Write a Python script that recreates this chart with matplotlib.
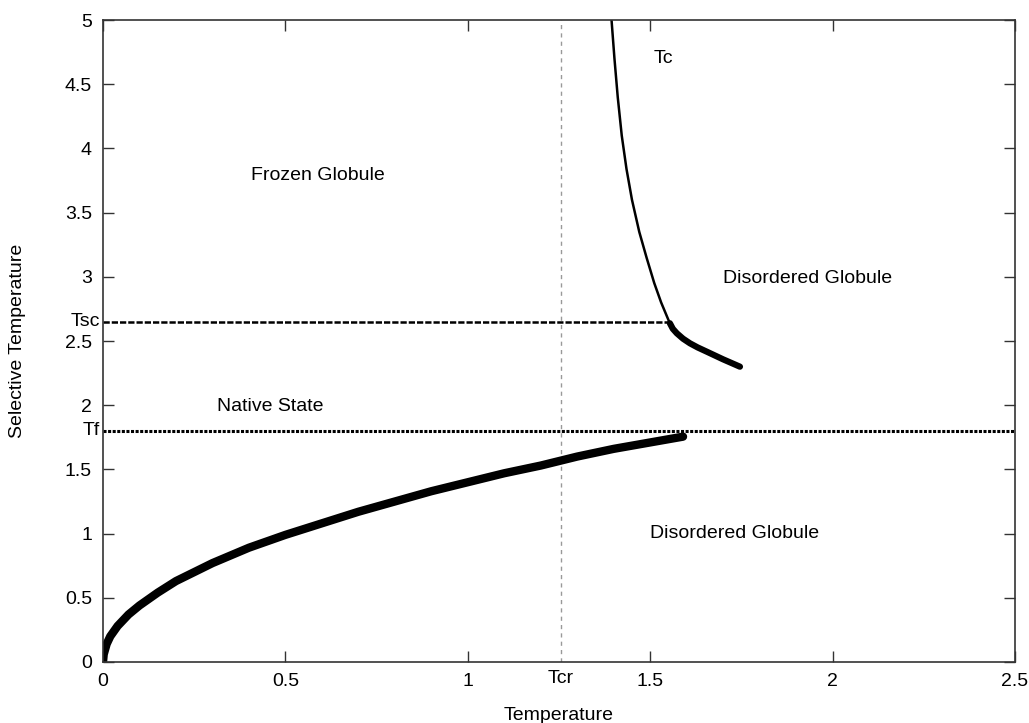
import matplotlib
matplotlib.use("Agg")
from matplotlib import pyplot as plt

plt.rcParams['font.family'] = ['Liberation Sans', 'DejaVu Sans']

# critical temperatures
T_sc = 2.65
T_f = 1.8
T_cr = 1.255

# Tc line (upper branch, thin)
tc_x = [1.394, 1.402, 1.411, 1.422, 1.435, 1.450, 1.470, 1.490, 1.511, 1.530, 1.552, 1.556]
tc_y = [5.0, 4.70, 4.40, 4.10, 3.84, 3.60, 3.35, 3.15, 2.952, 2.80, 2.650, 2.625]

# Tc continuation below Tsc (thick)
tc2_x = [1.554, 1.562, 1.573, 1.590, 1.609, 1.630, 1.655, 1.700, 1.746]
tc2_y = [2.638, 2.595, 2.560, 2.518, 2.482, 2.450, 2.417, 2.357, 2.300]

# lower boundary native state / disordered globule
low_x = [0.0, 0.002, 0.01, 0.02, 0.04, 0.07, 0.1, 0.15, 0.2, 0.3, 0.4, 0.5,
         0.6, 0.7, 0.8, 0.9, 1.0, 1.1, 1.2, 1.3, 1.4, 1.5, 1.59]
low_y = [0.0, 0.06, 0.14, 0.20, 0.28, 0.37, 0.44, 0.54, 0.63, 0.77, 0.89, 0.99,
         1.08, 1.17, 1.25, 1.33, 1.40, 1.47, 1.53, 1.60, 1.66, 1.71, 1.755]

xticks = [0, 0.5, 1, 1.5, 2, 2.5]
xticklabels = ["0", "0.5", "1", "1.5", "2", "2.5"]
yticks = [0, 0.5, 1, 1.5, 2, 2.5, 3, 3.5, 4, 4.5, 5]
yticklabels = ["0", "0.5", "1", "1.5", "2", "2.5", "3", "3.5", "4", "4.5", "5"]

fig = plt.figure(figsize=(10.29, 7.23), dpi=100)
ax = fig.add_axes((0.1001, 0.0844, 0.8863, 0.8879))

ax.set_xlim(0, 2.5)
ax.set_ylim(0, 5)

# reference lines
ax.axvline(T_cr, color='#999999', lw=1.0, ls=(0, (3, 3)))
ax.plot([0, 1.556], [T_sc, T_sc], color='black', lw=1.8, ls=(0, (2.5, 0.8)))
ax.axhline(T_f, color='black', lw=2.2, ls=(0, (1, 0.5)))

# curves
ax.plot(tc_x, tc_y, color='black', lw=1.8)
ax.plot(tc2_x, tc2_y, color='black', lw=4.5, solid_capstyle='round',
        solid_joinstyle='round')
ax.plot(low_x, low_y, color='black', lw=6, solid_capstyle='round',
        solid_joinstyle='round')

# region labels
fs = 14
ax.text(0.589, 3.79, "Frozen Globule", fontsize=fs, ha='center', va='center')
ax.text(1.535, 4.70, "Tc", fontsize=fs, ha='center', va='center')
ax.text(1.93, 2.99, "Disordered Globule", fontsize=fs, ha='center', va='center')
ax.text(0.458, 1.986, "Native State", fontsize=fs, ha='center', va='center')
ax.text(1.732, 0.997, "Disordered Globule", fontsize=fs, ha='center', va='center')

# extra axis labels for the critical temperatures
ax.text(-0.008, T_sc, "Tsc", fontsize=fs, ha='right', va='center')
ax.text(-0.008, T_f, "Tf", fontsize=fs, ha='right', va='center')
ax.text(T_cr, -0.06, "Tcr", fontsize=fs, ha='center', va='top')

ax.set_xticks(xticks)
ax.set_xticklabels(xticklabels)
ax.set_yticks(yticks)
ax.set_yticklabels(yticklabels)
ax.tick_params(direction='in', length=8, width=1, color='#333333',
               top=True, right=True, labelsize=fs, pad=8)

for s in ax.spines.values():
    s.set_color('#333333')
    s.set_linewidth(1.2)

ax.set_xlabel("Temperature", fontsize=fs, labelpad=12)
ax.set_ylabel("Selective Temperature", fontsize=fs, labelpad=28)

fig.savefig("out.png", dpi=100)
